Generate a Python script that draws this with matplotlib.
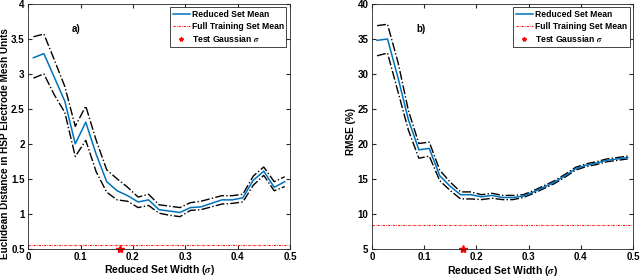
import numpy as np
import matplotlib
matplotlib.use("Agg")
import matplotlib.pyplot as plt

# reduced set widths (sigma)
sigma = [0.01, 0.03, 0.05, 0.07, 0.09, 0.11, 0.13, 0.15, 0.17, 0.19, 0.21, 0.23, 0.25,
         0.27, 0.29, 0.31, 0.33, 0.35, 0.37, 0.39, 0.41, 0.43, 0.45, 0.47, 0.49]

# panel a) euclidean distance
dist_mean = [3.23, 3.29, 2.95, 2.61, 2.00, 2.31, 1.85, 1.46, 1.33, 1.26, 1.17, 1.20, 1.06,
             1.04, 1.02, 1.09, 1.10, 1.15, 1.20, 1.20, 1.23, 1.48, 1.61, 1.38, 1.46]
dist_upper = [3.53, 3.57, 3.20, 2.82, 2.25, 2.54, 2.05, 1.63, 1.50, 1.38, 1.24, 1.28, 1.13,
              1.11, 1.09, 1.16, 1.18, 1.22, 1.26, 1.26, 1.28, 1.54, 1.67, 1.46, 1.53]
dist_lower = [2.94, 3.00, 2.70, 2.45, 1.82, 2.05, 1.60, 1.31, 1.20, 1.18, 1.09, 1.12, 1.01,
              0.98, 0.96, 1.05, 1.06, 1.10, 1.14, 1.15, 1.17, 1.41, 1.55, 1.33, 1.39]
dist_full = 0.56

# panel b) RMSE
rmse_mean = [34.8, 35.0, 29.5, 23.5, 19.2, 19.4, 15.5, 14.0, 12.8, 12.8, 12.5, 12.7, 12.4,
             12.4, 12.6, 13.2, 13.9, 14.6, 15.5, 16.5, 17.0, 17.3, 17.7, 17.9, 18.1]
rmse_upper = [36.9, 37.1, 31.7, 24.8, 20.1, 20.3, 16.3, 14.6, 13.2, 13.2, 12.8, 13.0, 12.7,
              12.7, 12.8, 13.4, 14.1, 14.8, 15.7, 16.7, 17.2, 17.5, 17.9, 18.1, 18.3]
rmse_lower = [32.6, 33.0, 27.5, 22.0, 18.0, 18.3, 14.8, 13.4, 12.2, 12.2, 12.1, 12.3, 12.1,
              12.1, 12.4, 13.0, 13.7, 14.4, 15.3, 16.3, 16.8, 17.1, 17.5, 17.7, 17.9]
rmse_full = 8.5

test_sigma = 0.175

blue = "#0072BD"
plt.rcParams["font.family"] = "Liberation Sans"
plt.rcParams["font.weight"] = "bold"
plt.rcParams["mathtext.fontset"] = "stix"

fig = plt.figure(figsize=(6.4, 2.79), dpi=100)
ax1 = fig.add_axes([0.044, 0.108, 0.409, 0.878])
ax2 = fig.add_axes([0.581, 0.106, 0.408, 0.880])


def panel(ax, mean, upper, lower, full, ylim, yticks, star_y, ylabel, tag, tag_xy, lx, ly):
    ax.plot(sigma, upper, color="black", ls="-.", lw=1.0)
    ax.plot(sigma, lower, color="black", ls="-.", lw=1.0)
    l1, = ax.plot(sigma, mean, color=blue, lw=1.1)
    l2 = ax.axhline(full, color="#FF1A1A", ls=(0, (2, 1, 0.6, 1)), lw=0.8)
    l3, = ax.plot([test_sigma], [star_y], ls="none", marker="*", color="red",
                  ms=6, clip_on=False)
    ax.set_xlim(0, 0.5)
    ax.set_ylim(*ylim)
    ax.set_xticks([0, 0.1, 0.2, 0.3, 0.4, 0.5])
    ax.set_xticklabels(["0", "0.1", "0.2", "0.3", "0.4", "0.5"])
    ax.set_yticks(yticks)
    ax.tick_params(direction="in", top=True, right=True, labelsize=7, length=3,
                   color="#262626", pad=2.5)
    ax.tick_params(axis="x", pad=2)
    for s in ax.spines.values():
        s.set_color("#262626")
        s.set_linewidth(0.6)
    ax.set_xlabel(r"Reduced Set Width ($\sigma$)", fontsize=7.5, fontweight="bold", labelpad=1)
    ax.set_ylabel(ylabel, fontsize=7.2, fontweight="bold")
    ax.yaxis.set_label_coords(lx, ly)
    ax.text(tag_xy[0], tag_xy[1], tag, fontsize=7, fontweight="bold")
    leg = ax.legend([l1, l2, l3], ["Reduced Set Mean", "Full Training Set Mean",
                                   r"Test Gaussian $\sigma$"],
                    loc="upper right", fontsize=6.2, fancybox=False, framealpha=1,
                    edgecolor="#262626", handlelength=2.0, borderpad=0.3,
                    labelspacing=0.3, handletextpad=0.2, borderaxespad=0.4,
                    markerscale=0.5)
    leg.get_frame().set_linewidth(0.6)


panel(ax1, dist_mean, dist_upper, dist_lower, dist_full, (0.5, 4),
      [0.5, 1, 1.5, 2, 2.5, 3, 3.5, 4], 0.5,
      "Euclidean Distance in HSP Electrode Mesh Units", "a)", (0.084, 3.6), -0.068, 0.43)
ax1.set_yticklabels(["0.5", "1", "1.5", "2", "2.5", "3", "3.5", "4"])
panel(ax2, rmse_mean, rmse_upper, rmse_lower, rmse_full, (5, 40),
      [5, 10, 15, 20, 25, 30, 35, 40], 5, "RMSE (%)", "b)", (0.086, 36.0), -0.062, 0.48)

fig.savefig("out.png", dpi=100)
